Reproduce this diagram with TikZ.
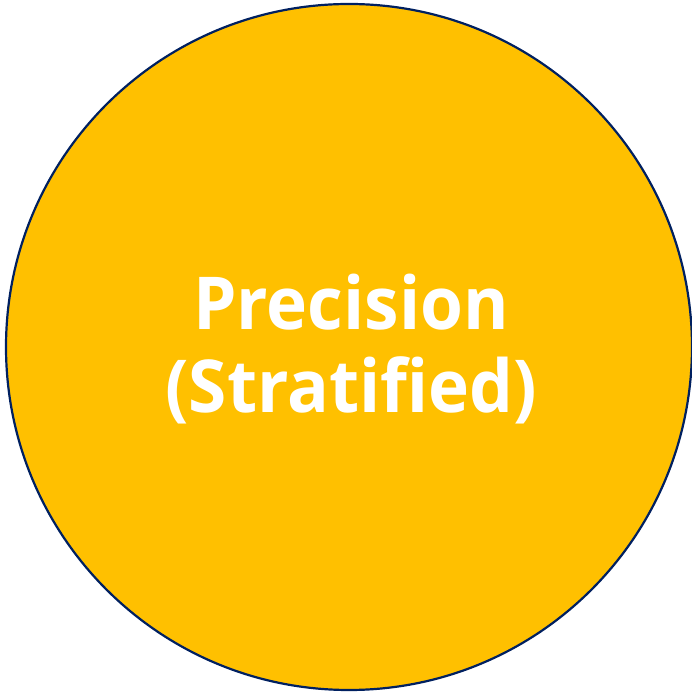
\documentclass[tikz,border=0pt]{standalone}
\usepackage{fontspec}
\setmainfont{Open Sans}[FakeStretch=0.95]
\definecolor{gold}{HTML}{FFC000}
\definecolor{navy}{HTML}{002060}
\begin{document}
\begin{tikzpicture}[x=1pt,y=1pt,
  disc/.style={circle, draw=navy, line width=2.2pt, fill=gold, minimum size=686pt, inner sep=0pt},
  lbl/.style={text=white, font=\fontsize{73}{83}\selectfont\bfseries, align=center}]
\useasboundingbox (0,0) rectangle (692,693);
\node[disc] (c) at (349,346) {};
\node[lbl] (t) at (351,343.5) {Precision\\(Stratified)};
\end{tikzpicture}
\end{document}
